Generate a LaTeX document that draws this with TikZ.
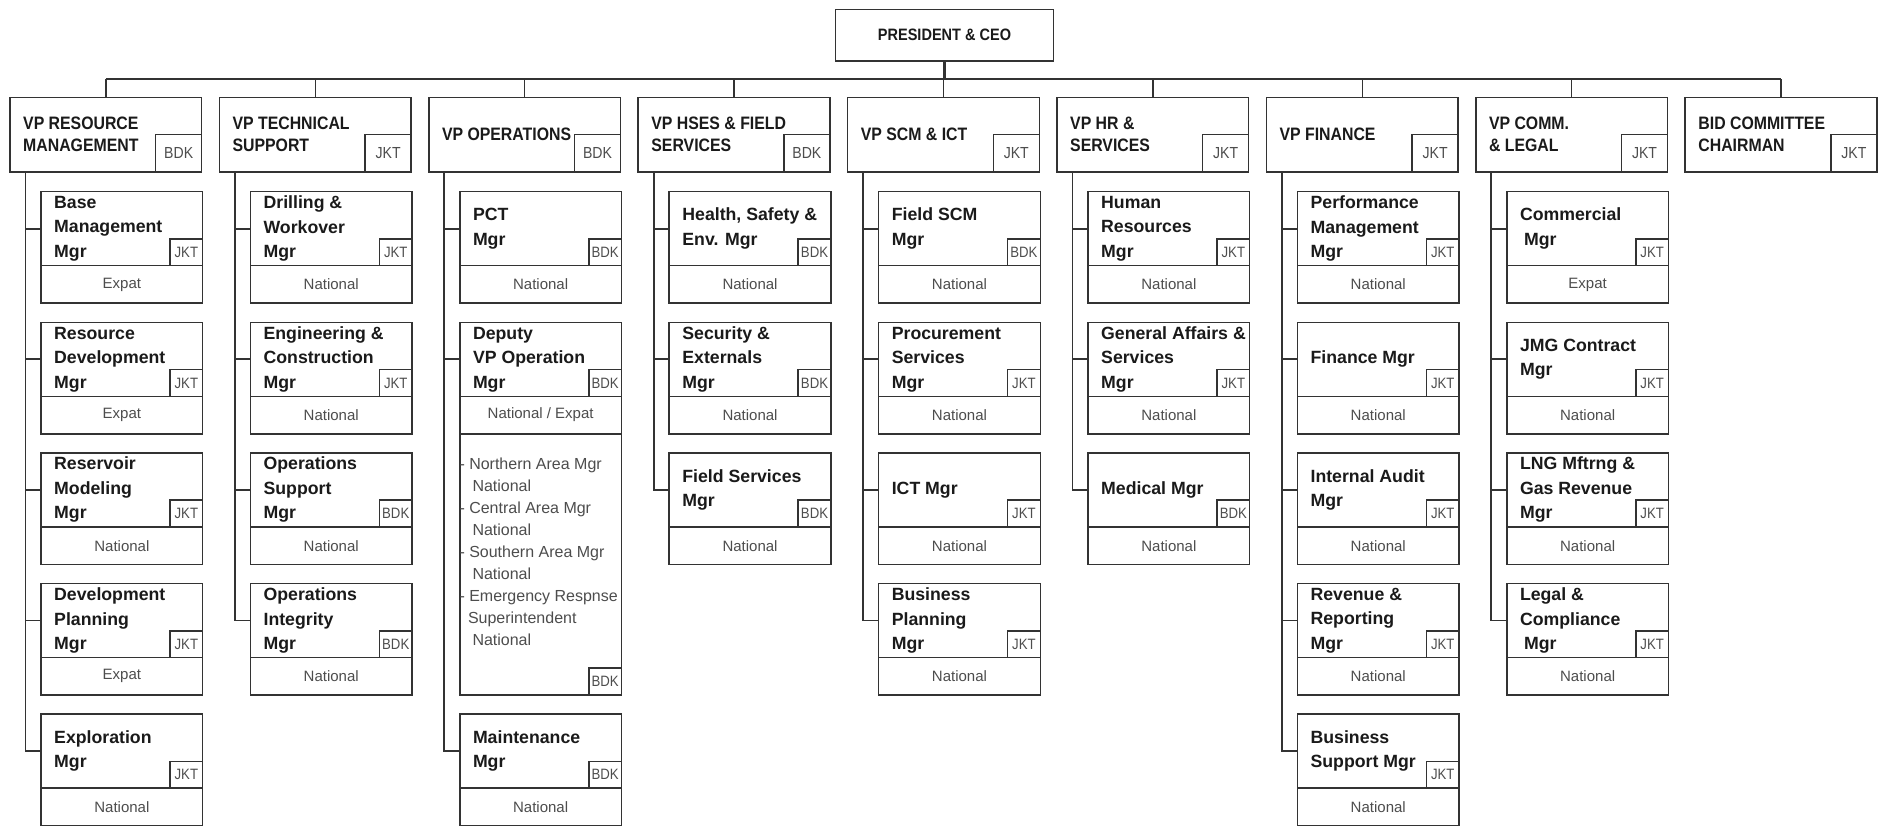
\documentclass[tikz,border=0pt]{standalone}
\usepackage{fontspec}
\setmainfont{Liberation Sans}
\newfontfamily\narfont{Liberation Sans}[FakeStretch=0.88]
\definecolor{ln}{HTML}{333333}
\definecolor{tx}{HTML}{1A1A1A}
\definecolor{sm}{HTML}{4D4D4D}
\tikzset{
 bx/.style={draw=ln, line width=1.5pt, inner sep=0pt, outer sep=0pt},
 ceobox/.style={bx, minimum width=218pt, minimum height=51.4pt, font=\narfont\bfseries\fontsize{16.5}{20}\selectfont, text=tx},
 vpbox/.style={bx, anchor=north west, minimum width=191.7pt, minimum height=74.3pt},
 vptag/.style={bx, anchor=south east, minimum width=46pt, minimum height=37.4pt, font=\narfont\fontsize{16}{18}\selectfont, text=sm},
 vplabel/.style={anchor=west, align=left, inner sep=0pt, font=\narfont\bfseries\fontsize{18}{22.3}\selectfont, text=tx},
 upbox/.style={bx, anchor=north west, minimum width=161.7pt, minimum height=74pt},
 lowbox/.style={bx, anchor=north west, minimum width=161.7pt, minimum height=37.5pt, font=\fontsize{15}{18}\selectfont, text=sm},
 tagbox/.style={bx, anchor=south east, minimum width=32.7pt, minimum height=26.7pt, font=\narfont\fontsize{15}{17}\selectfont, text=sm},
 mlabel/.style={anchor=west, align=left, inner sep=0pt, font=\bfseries\fontsize{17.7}{24.5}\selectfont, text=tx},
 detail/.style={anchor=north west, align=left, inner sep=0pt, font=\fontsize{16}{22}\selectfont, text=sm},
 trunk/.style={draw=ln, line width=1.8pt},
 thinbus/.style={draw=ln, line width=1.5pt},
 thickbus/.style={draw=ln, line width=2.6pt},
}
\newcommand\vpx[3]{%
 \node[vpbox] (vp#1) at ({10+209.4*#1},97.5) {};
 \node[vptag] (vp#1tag) at (vp#1.south east) {#3};
 \node[vplabel] (vp#1lbl) at ([xshift=13pt]vp#1.west) {#2};
 \draw[thinbus] (vp#1.north) -- (vp#1.north |- bus);
}
\newcommand\mg[6]{%
 \node[upbox] (#1) at ({10+209.4*#2+31},{191.7+130.6*(#3-1)}) {};
 \node[lowbox] (#1low) at (#1.south west) {#6};
 \node[tagbox] (#1tag) at (#1.south east) {#5};
 \node[mlabel] (#1lbl) at ([xshift=13pt]#1.west) {#4};
 \draw[trunk] ([xshift=15.5pt]vp#2.south west) |- (#1.west);
}
\begin{document}
\begin{tikzpicture}[x=1pt,y=-1pt]
\fill[white] (0,0) rectangle (1882,825);
\useasboundingbox (0,0) rectangle (1882,825);
\coordinate (bus) at (0,79);
\node[ceobox] (ceo) at (944.5,35.3) {PRESIDENT \& CEO};

\vpx{0}{VP RESOURCE\\MANAGEMENT}{BDK}
\vpx{1}{VP TECHNICAL\\SUPPORT}{JKT}
\vpx{2}{VP OPERATIONS}{BDK}
\vpx{3}{VP HSES \& FIELD\\SERVICES}{BDK}
\vpx{4}{VP SCM \& ICT}{JKT}
\vpx{5}{VP HR \&\\SERVICES}{JKT}
\vpx{6}{VP FINANCE}{JKT}
\vpx{7}{VP COMM.\\\& LEGAL}{JKT}
\vpx{8}{BID COMMITTEE\\CHAIRMAN}{JKT}

\draw[thinbus] (vp0.north |- bus) -- (vp1.north |- bus);
\draw[thickbus] (vp1.north |- bus) -- (vp7.north |- bus);
\draw[thinbus] (vp7.north |- bus) -- (vp8.north |- bus);
\draw[thickbus] (ceo.south) -- (ceo.south |- bus);

\mg{a1}{0}{1}{Base\\Management\\Mgr}{JKT}{Expat}
\mg{a2}{0}{2}{Resource\\Development\\Mgr}{JKT}{Expat}
\mg{a3}{0}{3}{Reservoir\\Modeling\\Mgr}{JKT}{National}
\mg{a4}{0}{4}{Development\\Planning\\Mgr}{JKT}{Expat}
\mg{a5}{0}{5}{Exploration\\Mgr}{JKT}{National}

\mg{b1}{1}{1}{Drilling \&\\Workover\\Mgr}{JKT}{National}
\mg{b2}{1}{2}{Engineering \&\\Construction\\Mgr}{JKT}{National}
\mg{b3}{1}{3}{Operations\\Support\\Mgr}{BDK}{National}
\mg{b4}{1}{4}{Operations\\Integrity\\Mgr}{BDK}{National}

\mg{c1}{2}{1}{PCT\\Mgr}{BDK}{National}
\mg{c2}{2}{2}{Deputy\\VP Operation\\Mgr}{BDK}{National / Expat}
\node[bx, anchor=north west, minimum width=161.7pt, minimum height=261pt] (c2ext) at (c2low.south west) {};
\node[tagbox] (c2exttag) at (c2ext.south east) {BDK};
\node[detail] (c2det) at ([xshift=-0.5pt,yshift=-24pt]c2ext.north west) {- Northern Area Mgr\\\hspace*{13pt}National\\- Central Area Mgr\\\hspace*{13pt}National\\- Southern Area Mgr\\\hspace*{13pt}National\\- Emergency Respnse\\\hspace*{8.5pt}Superintendent\\\hspace*{13pt}National};
\mg{c5}{2}{5}{Maintenance\\Mgr}{BDK}{National}

\mg{d1}{3}{1}{Health, Safety \&\\Env. Mgr}{BDK}{National}
\mg{d2}{3}{2}{Security \&\\Externals\\Mgr}{BDK}{National}
\mg{d3}{3}{3}{Field Services\\Mgr}{BDK}{National}

\mg{e1}{4}{1}{Field SCM\\Mgr}{BDK}{National}
\mg{e2}{4}{2}{Procurement\\Services\\Mgr}{JKT}{National}
\mg{e3}{4}{3}{ICT Mgr}{JKT}{National}
\mg{e4}{4}{4}{Business\\Planning\\Mgr}{JKT}{National}

\mg{f1}{5}{1}{Human\\Resources\\Mgr}{JKT}{National}
\mg{f2}{5}{2}{General Affairs \&\\Services\\Mgr}{JKT}{National}
\mg{f3}{5}{3}{Medical Mgr}{BDK}{National}

\mg{g1}{6}{1}{Performance\\Management\\Mgr}{JKT}{National}
\mg{g2}{6}{2}{Finance Mgr}{JKT}{National}
\mg{g3}{6}{3}{Internal Audit\\Mgr}{JKT}{National}
\mg{g4}{6}{4}{Revenue \&\\Reporting\\Mgr}{JKT}{National}
\mg{g5}{6}{5}{Business\\Support Mgr}{JKT}{National}

\mg{h1}{7}{1}{Commercial\\\hspace*{4pt}Mgr}{JKT}{Expat}
\mg{h2}{7}{2}{JMG Contract\\Mgr}{JKT}{National}
\mg{h3}{7}{3}{LNG Mftrng \&\\Gas Revenue\\Mgr}{JKT}{National}
\mg{h4}{7}{4}{Legal \&\\Compliance\\\hspace*{4pt}Mgr}{JKT}{National}
\end{tikzpicture}
\end{document}
